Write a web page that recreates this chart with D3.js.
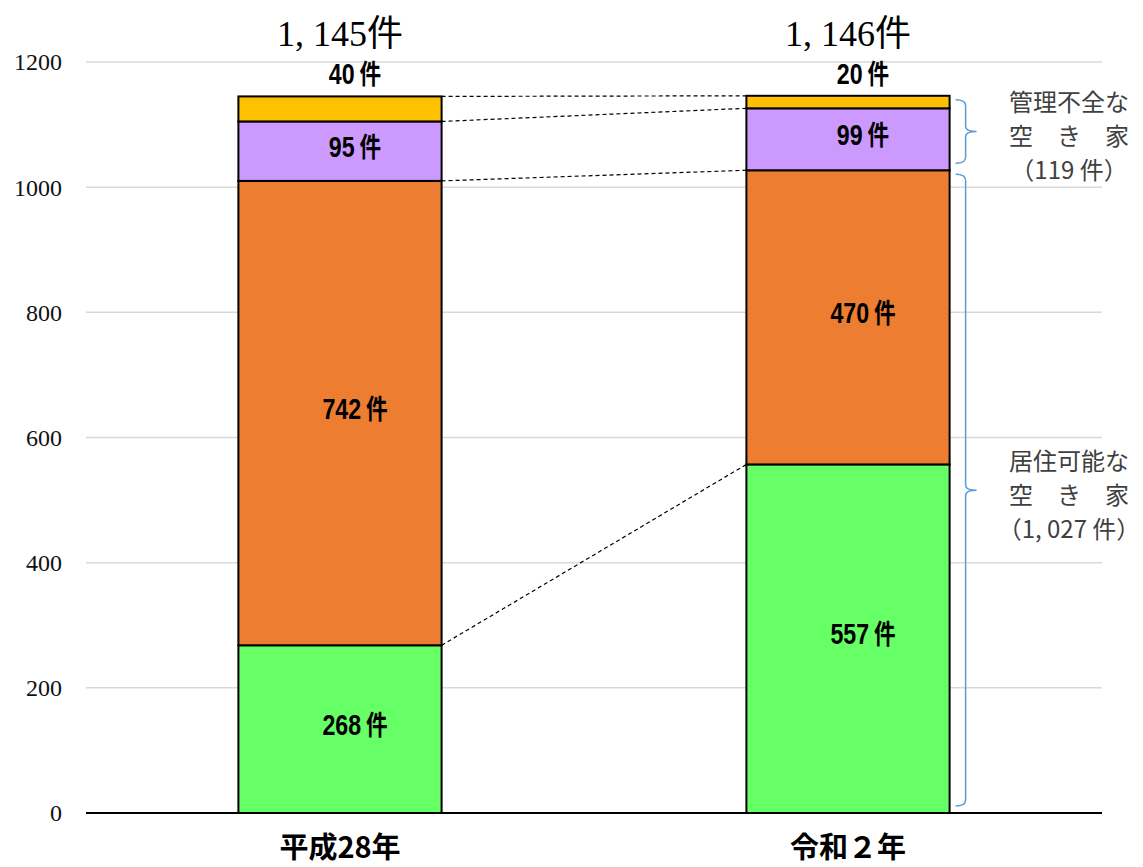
<!DOCTYPE html>
<html>
<head>
<meta charset="utf-8">
<script src="https://cdn.jsdelivr.net/npm/d3@7"></script>
<style>
  body { margin: 0; background: #fff; }
</style>
</head>
<body>
<div id="viz"></div>
<script>
// data
const years = ["平成28年", "令和２年"];
const seriesKeys = ["s1", "s2", "s3", "s4"];
const seriesColors = ["#66FF66", "#ED7D31", "#CC99FF", "#FFC000"];
const s1 = [268, 557];
const s2 = [742, 470];
const s3 = [95, 99];
const s4 = [40, 20];
const totalLabels = ["1, 145件", "1, 146件"];
const yTicks = [0, 200, 400, 600, 800, 1000, 1200];

// right side notes: [from, to] in chart units + lines of text
const noteRanges = [[1027, 1146], [0, 1027]];
const noteLines = [
  ["管理不全な", "空　き　家", "（119 件）"],
  ["居住可能な", "空　き　家", "（1, 027 件）"]
];

const width = 1143;
const height = 867;

const svg = d3.select("#viz").append("svg")
    .attr("width", width)
    .attr("height", height);

const table = years.map((y, i) => ({year: y, s1: s1[i], s2: s2[i], s3: s3[i], s4: s4[i]}));
const stacked = d3.stack().keys(seriesKeys)(table);

const x = d3.scaleBand()
    .domain(years)
    .range([86, 1102])
    .padding(0);

const y = d3.scaleLinear()
    .domain([0, 1200])
    .range([813, 62]);

const barW = x.bandwidth() * 0.4;
const barX = d => x(d) + (x.bandwidth() - barW) / 2;

// grid
svg.append("g")
  .selectAll("line")
  .data(yTicks.filter(t => t > 0))
  .join("line")
    .attr("x1", 86)
    .attr("x2", 1102)
    .attr("y1", d => y(d))
    .attr("y2", d => y(d))
    .attr("stroke", "#d9d9d9")
    .attr("stroke-width", 1.5);

// y tick labels
svg.append("g")
  .selectAll("text")
  .data(yTicks)
  .join("text")
    .attr("x", 62)
    .attr("y", d => y(d))
    .attr("dy", "0.35em")
    .attr("text-anchor", "end")
    .style("font-family", "'Liberation Serif', 'DejaVu Serif', serif")
    .style("font-size", "24px")
    .style("fill", "#111")
    .text(d => d);

// dashed connectors between the two bars
const connectors = stacked.map(layer => ({y0: layer[0][1], y1: layer[1][1]}));
svg.append("g")
  .selectAll("line")
  .data(connectors)
  .join("line")
    .attr("x1", barX(years[0]) + barW)
    .attr("x2", barX(years[1]))
    .attr("y1", d => y(d.y0))
    .attr("y2", d => y(d.y1))
    .attr("stroke", "#000")
    .attr("stroke-width", 1.2)
    .attr("stroke-dasharray", "4,3");

// bars
svg.append("g")
  .selectAll("g")
  .data(stacked)
  .join("g")
    .attr("fill", (d, i) => seriesColors[i])
  .selectAll("rect")
  .data(d => d)
  .join("rect")
    .attr("x", d => barX(d.data.year))
    .attr("y", d => y(d[1]))
    .attr("width", barW)
    .attr("height", d => y(d[0]) - y(d[1]))
    .attr("stroke", "#000")
    .attr("stroke-width", 2);

// baseline
svg.append("line")
    .attr("x1", 86)
    .attr("x2", 1102)
    .attr("y1", y(0))
    .attr("y2", y(0))
    .attr("stroke", "#000")
    .attr("stroke-width", 2);

// segment labels (small top segment goes above the bar)
const segLabels = [];
stacked.forEach((layer, li) => {
  layer.forEach(d => {
    const v = d[1] - d[0];
    const top = li === stacked.length - 1;
    segLabels.push({
      year: d.data.year,
      value: v,
      cy: top ? y(d[1]) - 18 : y((d[0] + d[1]) / 2)
    });
  });
});

const lab = svg.append("g")
  .selectAll("g")
  .data(segLabels)
  .join("g")
    .attr("transform", d => "translate(" + (x(d.year) + x.bandwidth() / 2 + 15) + "," + d.cy + ") scale(0.8,1)");

const labText = lab.append("text")
    .attr("text-anchor", "middle")
    .attr("dy", "0.36em")
    .style("font-family", "'Liberation Sans', 'Noto Sans CJK JP', sans-serif")
    .style("font-weight", "bold")
    .style("fill", "#000");
labText.append("tspan")
    .style("font-size", "29px")
    .text(d => d.value);
labText.append("tspan")
    .style("font-size", "27px")
    .style("font-family", "'Noto Sans CJK JP', sans-serif")
    .text(" 件");

// totals
svg.append("g")
  .selectAll("text")
  .data(years)
  .join("text")
    .attr("x", d => x(d) + x.bandwidth() / 2)
    .attr("y", 46)
    .attr("text-anchor", "middle")
    .style("font-family", "'Liberation Serif', 'Noto Sans CJK JP', serif")
    .style("font-size", "36px")
    .style("fill", "#000")
    .text((d, i) => totalLabels[i]);

// x labels
svg.append("g")
  .selectAll("text")
  .data(years)
  .join("text")
    .attr("x", d => x(d) + x.bandwidth() / 2)
    .attr("y", 858)
    .attr("text-anchor", "middle")
    .style("font-family", "'Noto Sans CJK JP', sans-serif")
    .style("font-weight", "bold")
    .style("font-size", "29px")
    .style("fill", "#000")
    .text(d => d);

// braces
const bx0 = barX(years[1]) + barW + 6;
const bxv = bx0 + 10;
const bxm = bx0 + 21;
function bracePath(t, b) {
  const m = (t + b) / 2;
  return "M" + bx0 + "," + t +
    " Q" + bxv + "," + t + " " + bxv + "," + (t + 6) +
    " L" + bxv + "," + (m - 5) +
    " Q" + bxv + "," + m + " " + bxm + "," + m +
    " Q" + bxv + "," + m + " " + bxv + "," + (m + 5) +
    " L" + bxv + "," + (b - 6) +
    " Q" + bxv + "," + b + " " + bx0 + "," + b;
}

svg.append("g")
  .selectAll("path")
  .data(noteRanges)
  .join("path")
    .attr("d", d => bracePath(y(d[1]) + 4, y(d[0]) - 7))
    .attr("fill", "none")
    .attr("stroke", "#5B9BD5")
    .attr("stroke-width", 1.5);

// note texts
const notes = svg.append("g")
  .selectAll("text")
  .data(noteRanges)
  .join("text")
    .attr("text-anchor", "middle")
    .style("font-family", "'Noto Sans CJK JP', sans-serif")
    .style("font-size", "24px")
    .style("fill", "#404040");

notes.each(function(d, i) {
  const mid = (y(d[0]) + y(d[1])) / 2;
  d3.select(this).selectAll("tspan")
    .data(noteLines[i])
    .join("tspan")
      .attr("x", 1069)
      .attr("y", (t, j) => mid - 22 + j * 34)
      .text(t => t);
});
</script>
</body>
</html>
